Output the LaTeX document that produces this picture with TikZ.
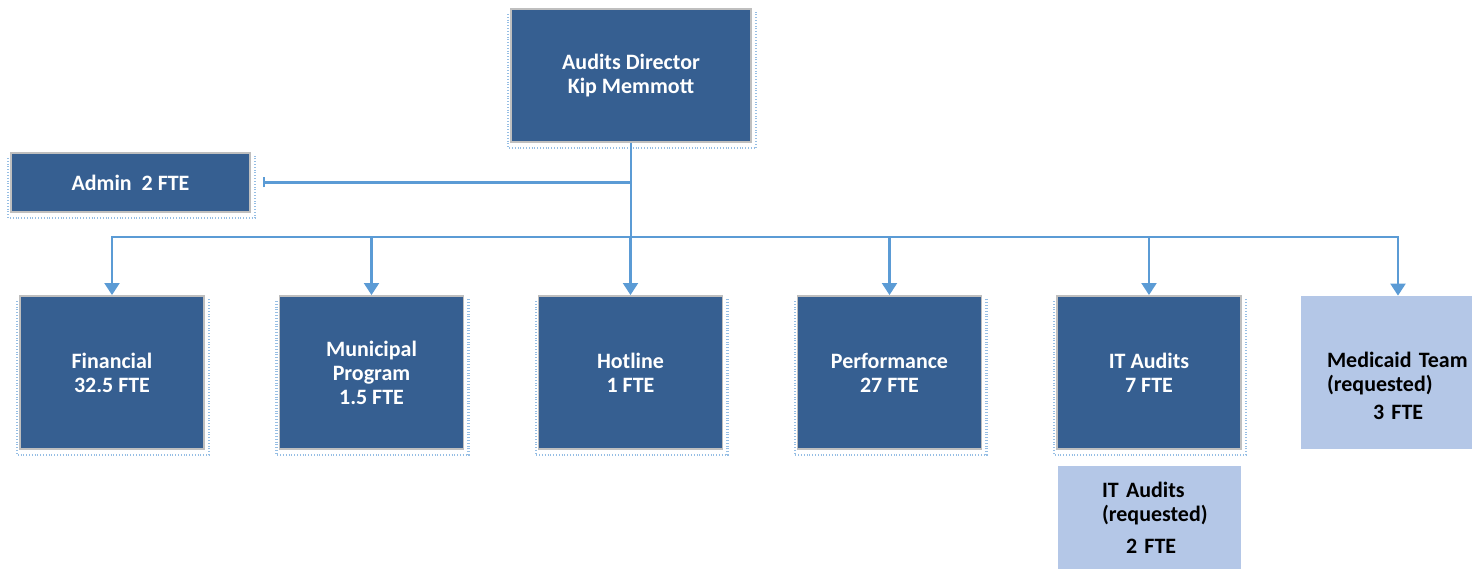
\documentclass[tikz,border=0pt]{standalone}
\usepackage{fontspec}
\setmainfont{Carlito}
\usetikzlibrary{arrows.meta}
\definecolor{boxblue}{RGB}{54,95,145}
\definecolor{reqblue}{RGB}{180,199,231}
\definecolor{lineblue}{RGB}{91,155,213}
\definecolor{dotblue}{RGB}{150,190,228}
\definecolor{rimgray}{RGB}{191,191,191}
\tikzset{
  unit/.style = {font=\bfseries\fontsize{12.5}{13.6}\selectfont, inner sep=0pt},
  dept/.style = {unit, draw=rimgray, line width=1.1pt, fill=boxblue, text=white,
    align=center, minimum width=3.68cm, minimum height=3.06cm},
  reqbox/.style = {unit, font=\bfseries\fontsize{12.5}{14}\selectfont,
    fill=reqblue, text=black, align=left},
  link/.style = {draw=lineblue, line width=1.15pt},
  down/.style = {link, -{Triangle[width=0.3cm,length=0.24cm]}},
  dotframe/.style = {draw=dotblue, line width=1.2pt, dash pattern=on 0.5pt off 1.1pt}
}

\begin{document}
\begin{tikzpicture}[x=0.02cm, y=0.02cm]
  \useasboundingbox (0,0) rectangle (1472,-570);
  % director and admin
  \node[dept, minimum width=4.8cm, minimum height=2.66cm] (dir) at (631,-75.5)
    {Audits Director\\Kip Memmott};
  \node[dept, minimum width=4.78cm, minimum height=1.18cm] (admin) at (130.5,-182.5)
    {Admin~~2 FTE};
  % units
  \node[dept] (fin) at (112,-372.5) {Financial\\32.5 FTE};
  \node[dept] (muni) at (371.5,-372.5) {Municipal\\Program\\1.5 FTE};
  \node[dept] (hot) at (630.5,-372.5) {Hotline\\1 FTE};
  \node[dept] (perf) at (889.5,-372.5) {Performance\\27 FTE};
  \node[dept] (it) at (1149,-372.5) {IT Audits\\7 FTE};
  \node[reqbox, minimum width=3.42cm, minimum height=3.06cm, text width=2.38cm,
    inner xsep=0.52cm] (med) at (1386.5,-372.5)
    {\rule{0pt}{24pt}Medicaid~Team\\(requested)\\[2pt]\hspace*{0.92cm}3 FTE};
  \node[reqbox, minimum width=3.66cm, minimum height=2.06cm, text width=1.9cm,
    inner xsep=0.88cm] (itreq) at (1149.5,-517.5)
    {IT Audits\\(requested)\\[4pt]\hspace*{0.48cm}2 FTE};
  % dotted shadows
  \foreach \n in {dir,admin,fin,muni,hot,perf,it}
    \draw[dotframe] ([shift={(-2,-6)}]\n.north west) |- ([shift={(4,-5)}]\n.south east)
      -- ([shift={(4,-4)}]\n.north east);
  % connectors
  \coordinate (bus) at (631,-237);
  \coordinate (adminend) at ([xshift=0.24cm]admin.east);
  \draw[link] (dir.south) -- (bus);
  \draw[link, -{Bar[width=0.2cm]}] (dir.south) |- (adminend);
  \foreach \n in {fin,muni,hot,perf,it}
    \draw[down] (bus) -| (\n.north);
  \draw[down] (bus) -| ([xshift=0.23cm]med.north);
\end{tikzpicture}
\end{document}
